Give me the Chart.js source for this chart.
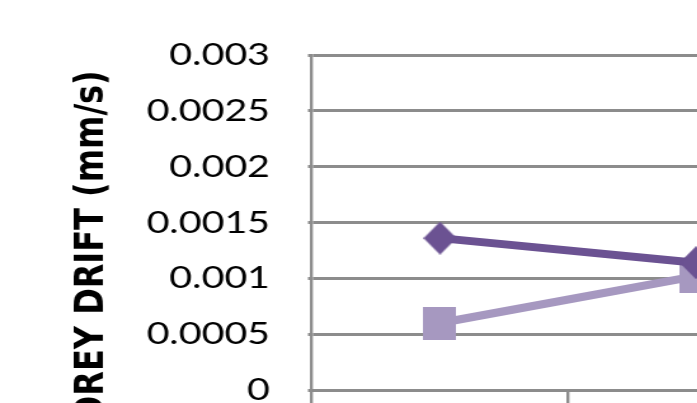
<!DOCTYPE html>
<html>
<head>
<meta charset="utf-8">
<script src="https://cdn.jsdelivr.net/npm/chart.js@4/dist/chart.umd.min.js"></script>
<style>
  html, body { margin: 0; padding: 0; background: #fff; overflow: hidden; width: 697px; height: 403px; }
  #wrap { position: absolute; left: 0; top: 0; transform-origin: 0 0; }
</style>
</head>
<body>
<div id="wrap"><canvas id="c"></canvas></div>
<script>
// Storey drift per storey level, two configurations
const categories = ['1', '2'];
const seriesNames = ['Series 1', 'Series 2'];
const driftDiamond = [0.00136, 0.00114];
const driftSquare = [0.0006, 0.00102];
const yTickValues = [0, 0.0005, 0.001, 0.0015, 0.002, 0.0025, 0.003];
const yTitle = 'STOREY DRIFT (mm/s)';

// The whole drawing is widened horizontally by SX on screen
const SX = 1.27;
const TICK_FONT = { family: 'Lato', size: 31, weight: 'normal' };
const TITLE_FONT = { family: 'DejaVu Sans', size: 32, weight: 'bold', lineHeight: 1.2 };
const GRID = '#8c8c8c';
const DARK = '#6b5292';
const LIGHT = '#a698c0';

// Screen-space layout targets (converted to canvas units)
const PLOT_LEFT = 312 / SX, PLOT_TOP = 55, PLOT_BOTTOM = 390, CAT_WIDTH = 256 / SX;
const TITLE_CENTER_X = 92 / SX, TITLE_TOP = 70;
const TITLE_LH = TITLE_FONT.size * TITLE_FONT.lineHeight;
const TITLE_PAD = TITLE_CENTER_X - TITLE_LH / 2;

// Size the canvas so the rotated title sits where wanted
const m = document.createElement('canvas').getContext('2d');
m.font = `${TITLE_FONT.weight} ${TITLE_FONT.size}px "${TITLE_FONT.family}"`;
const titleLen = m.measureText(yTitle).width;
const H = Math.max(Math.round(2 * (TITLE_TOP + titleLen / 2) - PLOT_TOP), 460);
const W = Math.round(PLOT_LEFT + CAT_WIDTH * categories.length + 60);

const canvas = document.getElementById('c');
canvas.width = W; canvas.height = H;
canvas.style.width = W + 'px'; canvas.style.height = H + 'px';
document.getElementById('wrap').style.transform = `scaleX(${SX})`;

// Marker shapes, narrowed so they come out square after widening
function marker(kind, size, color) {
  const w = Math.round(size / SX), h = size;
  const c = document.createElement('canvas');
  c.width = w; c.height = h;
  const g = c.getContext('2d');
  g.fillStyle = color;
  g.beginPath();
  if (kind === 'diamond') {
    g.moveTo(w / 2, 0); g.lineTo(w, h / 2); g.lineTo(w / 2, h); g.lineTo(0, h / 2);
  } else {
    g.rect(0, 0, w, h);
  }
  g.closePath();
  g.fill();
  return c;
}
const diamondMarker = marker('diamond', 33, DARK);
const squareMarker = marker('square', 33, LIGHT);

const fmt = v => {
  const hit = yTickValues.find(t => Math.abs(t - v) < 1e-9);
  return hit === undefined ? '' : String(hit);
};

// Adjustable layout amounts, tuned after the first layout pass
let yAxisWidth = PLOT_LEFT - (TITLE_PAD + TITLE_LH);
let xAxisHeight = H - PLOT_BOTTOM;
let rightPad = W - PLOT_LEFT - CAT_WIDTH * categories.length;

const chart = new Chart(canvas, {
  type: 'line',
  data: {
    labels: categories,
    datasets: [
      {
        label: seriesNames[0], data: driftDiamond,
        borderColor: DARK, backgroundColor: DARK, borderWidth: 8,
        pointStyle: diamondMarker, pointRadius: 16, tension: 0
      },
      {
        label: seriesNames[1], data: driftSquare,
        borderColor: LIGHT, backgroundColor: LIGHT, borderWidth: 8,
        pointStyle: squareMarker, pointRadius: 16, tension: 0
      }
    ]
  },
  options: {
    responsive: false,
    animation: false,
    devicePixelRatio: 1,
    layout: { autoPadding: false, padding: { top: PLOT_TOP, right: rightPad, bottom: 0, left: 0 } },
    plugins: {
      legend: { display: false },
      tooltip: { enabled: false },
      title: {
        display: true, text: yTitle, position: 'left', align: 'center',
        color: '#000', font: TITLE_FONT, padding: { top: TITLE_PAD, bottom: 0 }
      }
    },
    scales: {
      x: {
        type: 'category',
        offset: true,
        grid: { offset: true, drawOnChartArea: false, drawTicks: true, tickLength: 16, color: GRID, lineWidth: 3 / SX },
        border: { color: GRID, width: 3 },
        ticks: { font: TICK_FONT, color: '#000', padding: 10 },
        afterFit: s => { s.height = xAxisHeight; }
      },
      y: {
        min: 0, max: 0.003,
        ticks: { stepSize: 0.0005, font: TICK_FONT, color: '#000', padding: 38 / SX, callback: v => fmt(v) },
        grid: { color: GRID, lineWidth: 3, tickLength: 4 / SX },
        border: { color: GRID, width: 3 / SX },
        afterFit: s => { s.width = yAxisWidth; }
      }
    }
  }
});

// Tune the plot box so the category spacing and edges land on target
for (let pass = 0; pass < 3; pass++) {
  const ca = chart.chartArea;
  const xs = chart.scales.x;
  const step = xs.getPixelForValue(1) - xs.getPixelForValue(0);
  yAxisWidth += PLOT_LEFT - ca.left;
  xAxisHeight += ca.bottom - PLOT_BOTTOM;
  rightPad -= (CAT_WIDTH - step) * categories.length + (PLOT_LEFT - ca.left);
  chart.options.layout.padding = { top: PLOT_TOP, right: rightPad, bottom: 0, left: 0 };
  chart.update();
}
</script>
</body>
</html>
